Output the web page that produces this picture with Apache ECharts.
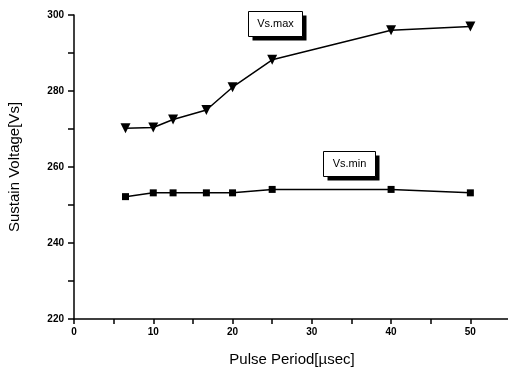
<!DOCTYPE html>
<html lang="en">
<head>
	<meta charset="UTF-8">
	<title>Sustain Voltage</title>
	<style>
		* {
			margin: 0;
			padding: 0;
		}

		#box {
			width: 508px;
			height: 372px;
			background: #fff;
		}
	</style>
	<script src="https://cdn.jsdelivr.net/npm/echarts@6/dist/echarts.min.js"></script>
</head>
<body>
<div id="box"></div>
</body>
<script>
	// 数据（Pulse Period, µsec）
	const periods = [6.5, 10, 12.5, 16.7, 20, 25, 40, 50];
	const vsMax = [270.2, 270.4, 272.5, 275, 281, 288.2, 296, 297];
	const vsMin = [252.2, 253.2, 253.2, 253.2, 253.2, 254.1, 254.1, 253.2];
	const xTicks = [0, 10, 20, 30, 40, 50];
	const yTicks = [220, 240, 260, 280, 300];

	const pair = (ys) => periods.map((x, i) => [x, ys[i]]);

	const axisFont = {
		color: '#000',
		fontSize: 10,
		fontWeight: 'bold',
		fontFamily: 'Liberation Sans Narrow, Arial, sans-serif'
	};

	// 标签框（带阴影）
	function tagBox(x, y, w, h, text) {
		return {
			type: 'group',
			left: x,
			top: y,
			children: [
				{type: 'rect', shape: {x: 4, y: 4, width: w, height: h}, style: {fill: '#000'}},
				{type: 'rect', shape: {x: 0, y: 0, width: w, height: h}, style: {fill: '#fff', stroke: '#000', lineWidth: 1}},
				{
					type: 'text', x: w / 2, y: h / 2,
					style: {
						text: text, fill: '#000', fontSize: 11, fontFamily: 'Arial, sans-serif',
						align: 'center', verticalAlign: 'middle'
					}
				}
			]
		};
	}

	const myEcharts = echarts.init(document.getElementById('box'));
	myEcharts.setOption({
		animation: false,
		backgroundColor: '#fff',
		grid: {left: 74, width: 436, top: 15, bottom: 53, containLabel: false, outerBoundsMode: 'none'},
		xAxis: {
			type: 'value',
			min: 0,
			max: 55,
			interval: 5,
			name: 'Pulse Period[µsec]',
			nameLocation: 'middle',
			nameGap: 33,
			nameTextStyle: {color: '#000', fontSize: 15, fontFamily: 'Liberation Sans Narrow, Arial, sans-serif'},
			axisLine: {lineStyle: {color: '#000', width: 1.5}},
			axisTick: {length: 5, lineStyle: {color: '#000', width: 1.5}},
			axisLabel: Object.assign({
				formatter: v => xTicks.includes(v) ? String(v) : '',
				margin: 8
			}, axisFont),
			splitLine: {show: false}
		},
		yAxis: {
			type: 'value',
			min: 220,
			max: 300,
			interval: 10,
			name: 'Sustain Voltage[Vs]',
			nameLocation: 'middle',
			nameGap: 52,
			nameTextStyle: {color: '#000', fontSize: 15, fontFamily: 'Liberation Sans Narrow, Arial, sans-serif'},
			axisLine: {show: true, lineStyle: {color: '#000', width: 1.5}},
			axisTick: {show: true, length: 6, lineStyle: {color: '#000', width: 1.5}},
			axisLabel: Object.assign({
				formatter: v => yTicks.includes(v) ? String(v) : '',
				margin: 10
			}, axisFont),
			splitLine: {show: false}
		},
		series: [
			{
				name: 'Vs.max',
				type: 'line',
				data: pair(vsMax),
				symbol: 'triangle',
				symbolRotate: 180,
				symbolSize: 10,
				itemStyle: {color: '#000'},
				lineStyle: {color: '#000', width: 1.5}
			},
			{
				name: 'Vs.min',
				type: 'line',
				data: pair(vsMin),
				symbol: 'rect',
				symbolSize: 7,
				itemStyle: {color: '#000'},
				lineStyle: {color: '#000', width: 1.5}
			}
		],
		graphic: [
			tagBox(248, 11, 54, 25, 'Vs.max'),
			tagBox(323, 151, 52, 25, 'Vs.min')
		]
	});
</script>
</html>
